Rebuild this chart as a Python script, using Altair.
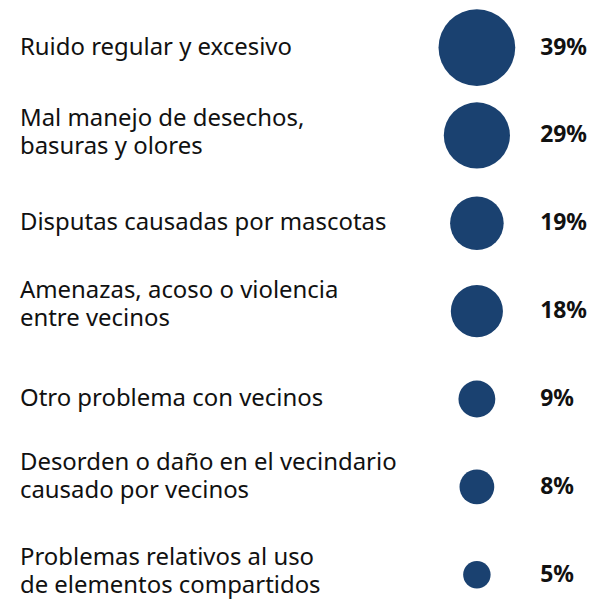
import altair as alt
import pandas as pd

labels = [
    "Ruido regular y excesivo",
    "Mal manejo de desechos,\nbasuras y olores",
    "Disputas causadas por mascotas",
    "Amenazas, acoso o violencia\nentre vecinos",
    "Otro problema con vecinos",
    "Desorden o daño en el vecindario\ncausado por vecinos",
    "Problemas relativos al uso\nde elementos compartidos",
]
values = [39, 29, 19, 18, 9, 8, 5]
pct_text = [f"{v}%" for v in values]

df = pd.DataFrame({
    "label": labels,
    "value": values,
    "pct": pct_text,
    "order": list(range(len(labels))),
    "multi": ["\n" in s for s in labels],
})

FONT = "Noto Sans"
NAVY = "#1a4170"
TXT = "#111111"

y_enc = alt.Y("order:Q", axis=None,
              scale=alt.Scale(domain=[0, 6], range=[37.7, 566.7], nice=False, zero=False))

base = alt.Chart(df)

circles = base.mark_circle(opacity=1, color=NAVY).encode(
    y=y_enc,
    x=alt.value(470.5),
    size=alt.Size("value:Q", legend=None,
                  scale=alt.Scale(domain=[0, 39], range=[0, 5929], zero=True)),
)

single_labels = base.transform_filter("!datum.multi").mark_text(
    align="left", baseline="middle", font=FONT, fontSize=24, color=TXT,
).encode(y=y_enc, x=alt.value(12), text="label:N")

# two-line labels: vertical nudge per row (mark styling only)
multi_dy = {1: -16.5, 3: -20.5, 5: -24, 6: -17}
multi_layers = [
    base.transform_filter(f"datum.order == {i}").mark_text(
        align="left", baseline="middle", font=FONT, fontSize=24,
        lineBreak="\n", lineHeight=28, dy=d, color=TXT,
    ).encode(y=y_enc, x=alt.value(12), text="label:N")
    for i, d in multi_dy.items()
]

pct = base.mark_text(
    align="left", baseline="middle", font=FONT, fontSize=23,
    fontWeight="bold", color=TXT,
).encode(y=y_enc, x=alt.value(534), text="pct:N")

chart = alt.layer(circles, single_labels, *multi_layers, pct).properties(
    width=572, height=587, padding=0
).configure_view(stroke=None)

chart.save("out.html", embed_options={"renderer": "svg", "actions": False})
